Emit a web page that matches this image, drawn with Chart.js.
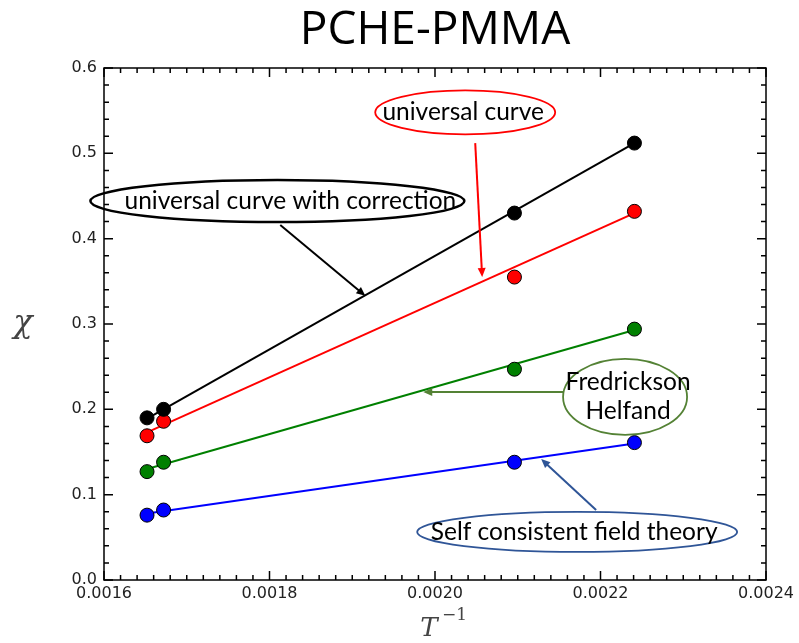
<!DOCTYPE html>
<html>
<head>
<meta charset="utf-8">
<script src="https://cdn.jsdelivr.net/npm/chart.js@4.4.1/dist/chart.umd.min.js"></script>
<style>
  html, body { margin: 0; padding: 0; background: #fff; }
  #wrap { width: 799px; height: 643px; }
</style>
</head>
<body>
<div id="wrap"><canvas id="chi-chart" width="799" height="643"></canvas></div>
<script>
// inverse temperature of the four measurements
const invT = [0.001652, 0.001672, 0.002096, 0.002241];

// chi values
const chiCorrected = [0.190, 0.200, 0.430, 0.512];
const chiUniversal = [0.169, 0.186, 0.355, 0.432];
const chiFH = [0.127, 0.138, 0.247, 0.294];
const chiSCFT = [0.076, 0.082, 0.138, 0.161];

// straight fit lines, start and end values
const fitX = [0.001652, 0.002241];
const fitCorrected = [0.189, 0.512];
const fitUniversal = [0.173, 0.430];
const fitFH = [0.130, 0.293];
const fitSCFT = [0.078, 0.160];

// tick labels
const xTicks = ['0.0016', '0.0018', '0.0020', '0.0022', '0.0024'];
const yTicks = ['0.0', '0.1', '0.2', '0.3', '0.4', '0.5', '0.6'];

// callouts, anchored in data units
const callouts = [
    { lines: ['universal curve with correction'], color: '#000', cx: 0.0018095, cy: 0.444, rx: 187, ry: 21, lw: 2.5, dx: 13,
      from: [0.001813, 0.416], to: [0.0019158, 0.333] },
    { lines: ['universal curve'], color: '#ff0000', cx: 0.0020365, cy: 0.548, rx: 90, ry: 22, lw: 1.8, dx: -2,
      from: [0.0020486, 0.512], to: [0.002057, 0.355] },
    { lines: ['Fredrickson', 'Helfand'], color: '#548235', cx: 0.0022297, cy: 0.2145, rx: 62, ry: 38, lw: 1.8, dx: 3,
      from: [0.0021549, 0.2203], to: [0.0019858, 0.2203] },
    { lines: ['Self consistent field theory'], color: '#2f5597', cx: 0.0021718, cy: 0.0563, rx: 160, ry: 20, lw: 1.8, dx: -3,
      from: [0.0021947, 0.082], to: [0.0021283, 0.1418] }
];

function pts(xs, ys){
    return xs.map((x, i) => ({ x: x, y: ys[i] }));
}

function lineSet(ys, color){
    return { data: pts(fitX, ys), showLine: true, borderColor: color, borderWidth: 2,
             pointRadius: 0, fill: false, order: 2 };
}

function pointSet(ys, color){
    return { data: pts(invT, ys), showLine: false, backgroundColor: color, borderColor: '#000',
             borderWidth: 1, pointRadius: 7, order: 1 };
}

function drawArrow(ctx, x1, y1, x2, y2, color, width){
    let ang = Math.atan2(y2 - y1, x2 - x1);
    let len = 9, half = 4;
    ctx.save();
    ctx.strokeStyle = color;
    ctx.fillStyle = color;
    ctx.lineWidth = width;
    ctx.beginPath();
    ctx.moveTo(x1, y1);
    ctx.lineTo(x2 - Math.cos(ang) * len * 0.8, y2 - Math.sin(ang) * len * 0.8);
    ctx.stroke();
    ctx.beginPath();
    ctx.moveTo(x2, y2);
    ctx.lineTo(x2 - Math.cos(ang) * len - Math.sin(ang) * half, y2 - Math.sin(ang) * len + Math.cos(ang) * half);
    ctx.lineTo(x2 - Math.cos(ang) * len + Math.sin(ang) * half, y2 - Math.sin(ang) * len - Math.cos(ang) * half);
    ctx.closePath();
    ctx.fill();
    ctx.restore();
}

const framePlugin = {
    id: 'frame',
    afterDraw(chart){
        let ctx = chart.ctx;
        let a = chart.chartArea;
        let xs = chart.scales.x, ys = chart.scales.y;

        ctx.save();
        ctx.strokeStyle = '#000';
        ctx.lineWidth = 1.5;
        ctx.strokeRect(a.left, a.top, a.right - a.left, a.bottom - a.top);

        // inward ticks on all four sides
        ctx.lineWidth = 1.5;
        ctx.beginPath();
        for(let i = 0; i <= 40; i++){
            let v = 0.0016 + i * 0.00002;
            let px = xs.getPixelForValue(v);
            let l = (i % 10 === 0) ? 9 : 5;
            ctx.moveTo(px, a.bottom); ctx.lineTo(px, a.bottom - l);
            ctx.moveTo(px, a.top); ctx.lineTo(px, a.top + l);
        }
        for(let i = 0; i <= 30; i++){
            let v = i * 0.02;
            let py = ys.getPixelForValue(v);
            let l = (i % 5 === 0) ? 9 : 5;
            ctx.moveTo(a.left, py); ctx.lineTo(a.left + l, py);
            ctx.moveTo(a.right, py); ctx.lineTo(a.right - l, py);
        }
        ctx.stroke();

        // title
        ctx.fillStyle = '#000';
        ctx.textAlign = 'center';
        ctx.textBaseline = 'alphabetic';
        ctx.font = '46px "Open Sans"';
        ctx.fillText('PCHE-PMMA', (a.left + a.right) / 2, 44);

        // axis titles
        ctx.font = 'italic 32px "DejaVu Serif"';
        ctx.fillStyle = '#444';
        ctx.fillText('\u03c7', 23, 332);
        ctx.font = 'italic 26px "DejaVu Serif"';
        ctx.fillText('T', 429, 636);
        ctx.font = '17px "DejaVu Serif"';
        ctx.textAlign = 'left';
        ctx.fillText('\u22121', 442, 620);

        // callouts
        for(let c of callouts){
            let cx = xs.getPixelForValue(c.cx), cy = ys.getPixelForValue(c.cy);
            ctx.strokeStyle = c.color;
            ctx.lineWidth = c.lw;
            ctx.beginPath();
            ctx.ellipse(cx, cy, c.rx, c.ry, 0, 0, Math.PI * 2);
            ctx.stroke();

            ctx.fillStyle = '#000';
            ctx.textAlign = 'center';
            ctx.textBaseline = 'middle';
            ctx.font = '24.5px Lato';
            let lh = 29;
            let y0 = cy - (c.lines.length - 1) * lh / 2;
            c.lines.forEach((t, i) => ctx.fillText(t, cx + c.dx, y0 + i * lh));

            drawArrow(ctx,
                xs.getPixelForValue(c.from[0]), ys.getPixelForValue(c.from[1]),
                xs.getPixelForValue(c.to[0]), ys.getPixelForValue(c.to[1]),
                c.color, 2);
        }
        ctx.restore();
    }
};

const tickFont = { family: '"DejaVu Sans"', size: 16 };

new Chart(document.getElementById('chi-chart'), {
    type: 'scatter',
    data: {
        datasets: [
            lineSet(fitCorrected, '#000000'),
            lineSet(fitUniversal, '#ff0000'),
            lineSet(fitFH, '#008000'),
            lineSet(fitSCFT, '#0000ff'),
            pointSet(chiCorrected, '#000000'),
            pointSet(chiUniversal, '#ff0000'),
            pointSet(chiFH, '#008000'),
            pointSet(chiSCFT, '#0000ff')
        ]
    },
    options: {
        responsive: false,
        animation: false,
        devicePixelRatio: 1,
        layout: { padding: { left: 0, top: 68, right: 33, bottom: 23 } },
        plugins: {
            legend: { display: false },
            tooltip: { enabled: false }
        },
        scales: {
            x: {
                type: 'linear',
                min: 0.0016,
                max: 0.0024,
                grid: { display: false, drawTicks: false },
                border: { display: false },
                ticks: {
                    stepSize: 0.0002,
                    padding: 4,
                    color: '#222',
                    font: tickFont,
                    maxRotation: 0,
                    callback: (v) => xTicks[Math.round((v - 0.0016) / 0.0002)]
                },
                afterFit: (s) => { s.height = 40; }
            },
            y: {
                type: 'linear',
                min: 0,
                max: 0.6,
                grid: { display: false, drawTicks: false },
                border: { display: false },
                ticks: {
                    stepSize: 0.1,
                    padding: 7,
                    color: '#222',
                    font: tickFont,
                    callback: (v) => yTicks[Math.round(v / 0.1)]
                },
                afterFit: (s) => { s.width = 104; }
            }
        }
    },
    plugins: [framePlugin]
});
</script>
</body>
</html>
